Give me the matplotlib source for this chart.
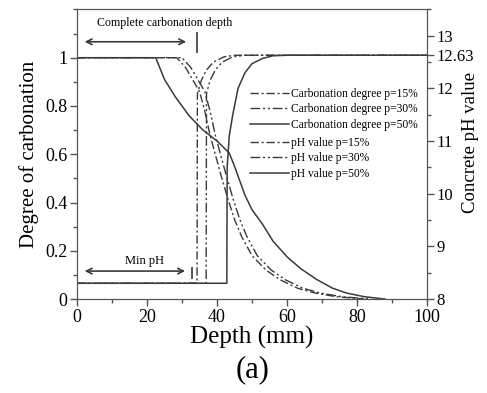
import matplotlib
matplotlib.use("Agg")
import matplotlib.pyplot as plt
from matplotlib.ticker import MultipleLocator

plt.rcParams['font.family'] = ['Liberation Serif', 'DejaVu Serif']

# degree of carbonation vs depth (mm)
depth_c15 = [0, 28.5, 31, 33, 35, 36.5, 38, 39.5, 41, 43, 45, 47, 50, 54, 58, 63, 68, 74, 82]
carb_15 = [1, 1, 0.96, 0.91, 0.86, 0.78, 0.68, 0.60, 0.52, 0.42, 0.33, 0.26, 0.18, 0.12, 0.08, 0.045, 0.025, 0.01, 0]
depth_c30 = [0, 30, 32.5, 34.5, 36.5, 38, 39.5, 41, 42.5, 44.5, 46.5, 48.5, 51.5, 55.5, 59.5, 64.5, 69.5, 75.5, 84]
carb_30 = [1, 1, 0.96, 0.91, 0.86, 0.78, 0.68, 0.60, 0.52, 0.42, 0.33, 0.26, 0.18, 0.12, 0.08, 0.045, 0.025, 0.01, 0]
depth_c50 = [0, 22.5, 25, 28, 32, 36, 40, 43.5, 45, 46.5, 48, 50, 53, 56, 60, 64, 68.6, 73, 77, 82, 88]
carb_50 = [1, 1, 0.91, 0.84, 0.76, 0.70, 0.655, 0.605, 0.55, 0.49, 0.43, 0.37, 0.31, 0.24, 0.175, 0.125, 0.08, 0.045, 0.025, 0.01, 0]

# concrete pH vs depth (mm)
depth_p15 = [0, 34.3, 34.4, 35.5, 37, 39, 42, 45, 100]
ph_15 = [8.3, 8.3, 11.9, 12.15, 12.35, 12.5, 12.6, 12.63, 12.63]
depth_p30 = [0, 36.9, 37.0, 38, 39.5, 41.5, 44.5, 48, 100]
ph_30 = [8.3, 8.3, 11.9, 12.15, 12.35, 12.5, 12.6, 12.63, 12.63]
depth_p50 = [0, 42.8, 42.9, 43.5, 44.5, 46, 48, 50, 53, 56, 60, 100]
ph_50 = [8.3, 8.3, 10.5, 11.1, 11.5, 12.0, 12.3, 12.47, 12.57, 12.62, 12.63, 12.63]

ph_ticks = [8, 9, 10, 11, 12, 12.63, 13]
ph_labels = ['8', '9', '10', '11', '12', '12.63', '13']

col = '#3a3a3a'
dash_dot = (0, (6, 2, 1.5, 2))
dash_dot_dot = (0, (7, 2, 1.5, 2, 1.5, 2))

fig = plt.figure(figsize=(4.87, 3.93), dpi=100)
ax = fig.add_axes([0.158, 0.239, 0.719, 0.737])
ax2 = ax.twinx()

l1, = ax.plot(depth_c15, carb_15, color=col, lw=1.0, ls=dash_dot, label='Carbonation degree p=15%')
l2, = ax.plot(depth_c30, carb_30, color=col, lw=1.0, ls=dash_dot_dot, label='Carbonation degree p=30%')
l3, = ax.plot(depth_c50, carb_50, color=col, lw=1.1, ls='-', label='Carbonation degree p=50%')
l4, = ax2.plot(depth_p15, ph_15, color=col, lw=1.0, ls=dash_dot, label='pH value p=15%')
l5, = ax2.plot(depth_p30, ph_30, color=col, lw=1.0, ls=dash_dot_dot, label='pH value p=30%')
l6, = ax2.plot(depth_p50, ph_50, color=col, lw=1.1, ls='-', label='pH value p=50%')

ax.set_xlim(0, 100)
ax.set_ylim(0, 1.2)
ax2.set_ylim(8, 13.5)

ax.set_xticks([0, 20, 40, 60, 80, 100])
ax.xaxis.set_minor_locator(MultipleLocator(10))
ax.set_yticks([0, 0.2, 0.4, 0.6, 0.8, 1])
ax.set_yticklabels(['0', '0.2', '0.4', '0.6', '0.8', '1'])
ax.yaxis.set_minor_locator(MultipleLocator(0.1))
ax2.set_yticks(ph_ticks)
ax2.set_yticklabels(ph_labels)
ax2.yaxis.set_minor_locator(MultipleLocator(0.5))

for a in (ax, ax2):
    a.tick_params(which='major', length=5, width=1, color='#555', labelsize=13, pad=2)
    a.tick_params(which='minor', length=3, width=1, color='#555')
    for s in a.spines.values():
        s.set_color('#555')
ax2.tick_params(which='major', labelsize=12)

ax.set_xlabel('Depth (mm)', fontsize=18, labelpad=0)
ax.set_ylabel('Degree of carbonation', fontsize=15, labelpad=4)
ax2.set_ylabel('Concrete pH value', fontsize=13.5)
ax2.yaxis.set_label_coords(1.1, 0.542)

# annotations
ax.annotate('', xy=(1.4, 1.066), xytext=(32, 1.066),
            arrowprops=dict(arrowstyle='<->', color=col, lw=1.2))
ax.vlines(34.3, 1.02, 1.108, color=col, lw=1.2)
ax.text(25, 1.145, 'Complete carbonation depth', fontsize=8.6, ha='center', va='center')

ax.annotate('', xy=(1.4, 0.116), xytext=(31.7, 0.116),
            arrowprops=dict(arrowstyle='<->', color=col, lw=1.2))
ax.vlines(33, 0.083, 0.133, color=col, lw=1.2)
ax.text(19.4, 0.158, 'Min pH', fontsize=9, ha='center', va='center')

leg_kw = dict(loc='upper left', frameon=False, fontsize=8.3, handlelength=3.4,
              handletextpad=0.15, labelspacing=0.3, borderpad=0, borderaxespad=0)
leg1 = ax.legend(handles=[l1, l2, l3], bbox_to_anchor=(0.494, 0.729), **leg_kw)
leg2 = ax2.legend(handles=[l4, l5, l6], bbox_to_anchor=(0.494, 0.56), **leg_kw)

fig.text(0.518, 0.058, '(a)', fontsize=22, ha='center', va='center')

fig.savefig('out.png', dpi=100)
